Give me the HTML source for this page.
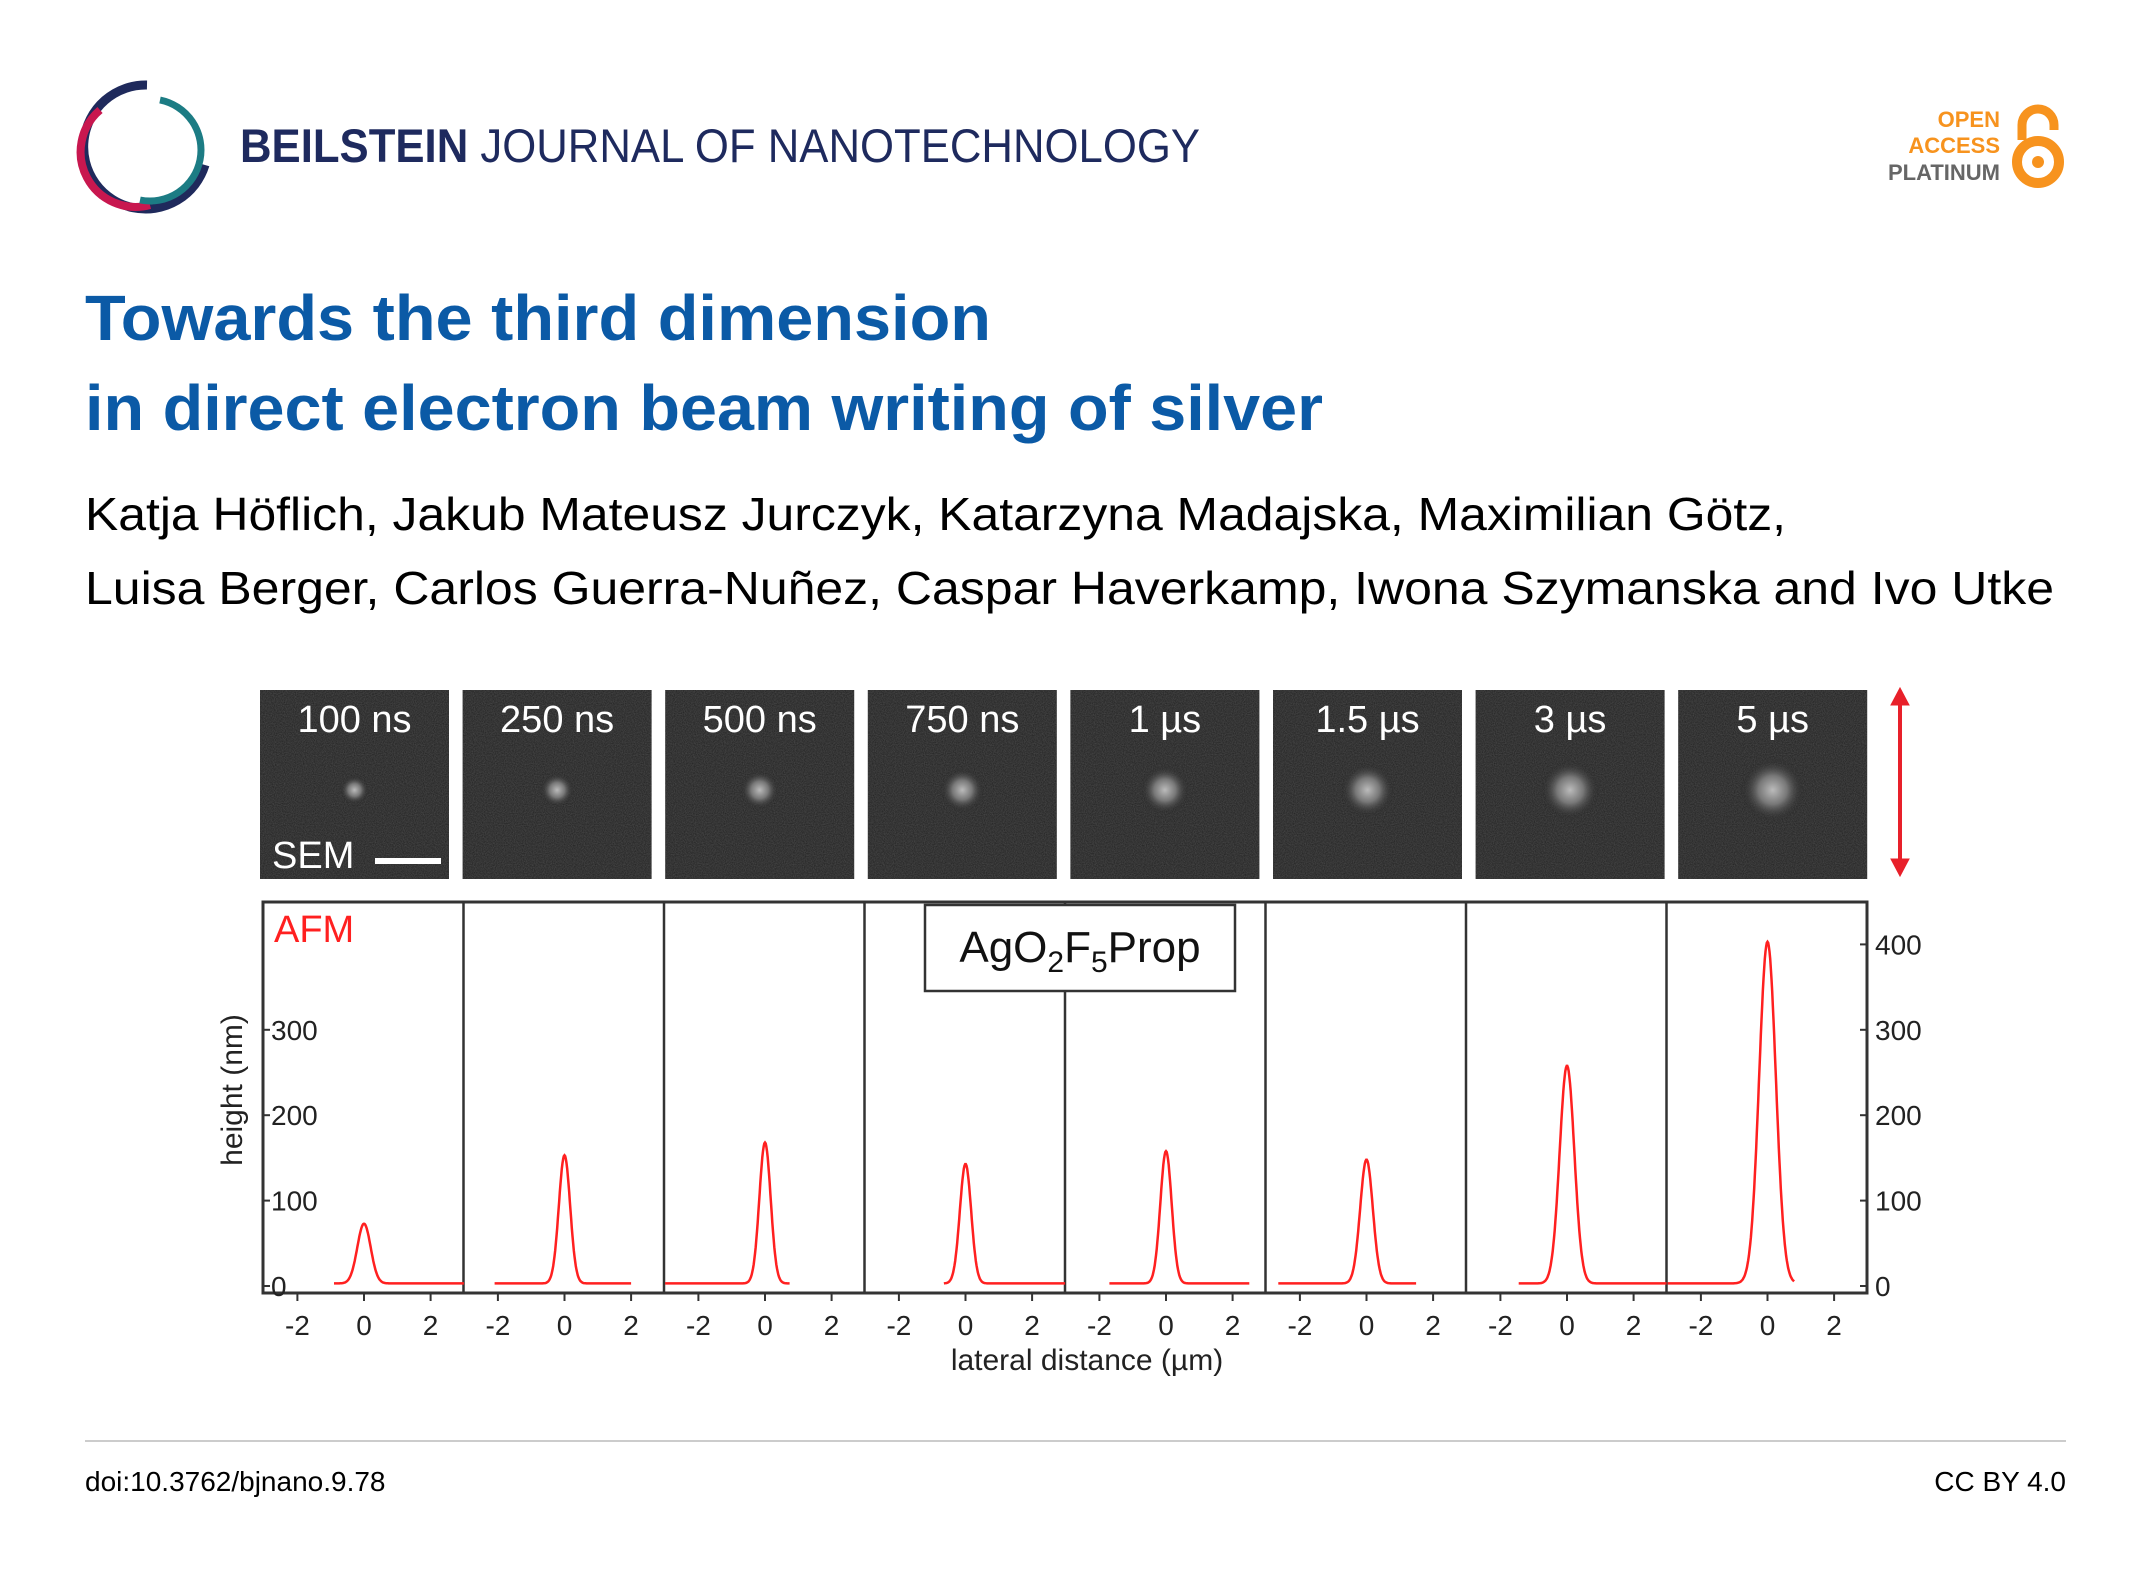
<!DOCTYPE html>
<html><head><meta charset="utf-8"><style>
html,body{margin:0;padding:0;background:#fff}
svg{display:block}
text{font-family:"Liberation Sans",sans-serif}
</style></head><body>
<svg id="page" width="2150" height="1592" viewBox="0 0 2150 1592" xmlns="http://www.w3.org/2000/svg">
<defs>
<filter id="noise" x="0" y="0" width="100%" height="100%"><feTurbulence type="fractalNoise" baseFrequency="0.9" numOctaves="2" seed="3"/><feColorMatrix type="matrix" values="0 0 0 0 0.5  0 0 0 0 0.5  0 0 0 0 0.5  0 0 0 0.3 0"/><feComposite in2="SourceGraphic" operator="in"/></filter>
<radialGradient id="blob"><stop offset="0" stop-color="#bbb"/><stop offset="0.45" stop-color="#777"/><stop offset="1" stop-color="#222" stop-opacity="0"/></radialGradient>
</defs>
<g>
<path d="M147 85 A62 62 0 1 0 205 165" fill="none" stroke="#1f2a5c" stroke-width="9"/>
<path d="M100 110 A55 55 0 0 0 150 205" fill="none" stroke="#c8174f" stroke-width="8"/>
<path d="M160 100 A50 50 0 0 1 140 200" fill="none" stroke="#1c7c84" stroke-width="7"/>
</g>
<text x="240" y="162" font-size="47" fill="#1e2a5e" textLength="960" lengthAdjust="spacingAndGlyphs"><tspan font-weight="bold">BEILSTEIN</tspan> JOURNAL OF NANOTECHNOLOGY</text>
<g font-weight="bold" font-size="22" text-anchor="end">
<text x="2000" y="127" fill="#f7931e">OPEN</text>
<text x="2000" y="153" fill="#f7931e">ACCESS</text>
<text x="2000" y="180" fill="#666">PLATINUM</text>
<path d="M2022 140 V125 A16 16 0 0 1 2054 125 V130" fill="none" stroke="#f7931e" stroke-width="9"/>
<circle cx="2038" cy="162" r="21" fill="none" stroke="#f7931e" stroke-width="10"/>
<circle cx="2038" cy="162" r="6" fill="#f7931e"/>
</g>
<g fill="#0b5aa6" font-weight="bold" font-size="64">
<text x="85" y="340" textLength="906" lengthAdjust="spacingAndGlyphs">Towards the third dimension</text>
<text x="85" y="430" textLength="1238" lengthAdjust="spacingAndGlyphs">in direct electron beam writing of silver</text>
</g>
<g fill="#000" font-size="46">
<text x="85" y="530" textLength="1701" lengthAdjust="spacingAndGlyphs">Katja Höflich, Jakub Mateusz Jurczyk, Katarzyna Madajska, Maximilian Götz,</text>
<text x="85" y="604" textLength="1969" lengthAdjust="spacingAndGlyphs">Luisa Berger, Carlos Guerra-Nuñez, Caspar Haverkamp, Iwona Szymanska and Ivo Utke</text>
</g>
<g id="sem"></g>
<g stroke="#e8202a" fill="#e8202a">
<line x1="1900" y1="700" x2="1900" y2="864" stroke-width="4"/>
<path d="M1891 705 L1900 688 L1909 705Z"/><path d="M1891 859 L1900 876 L1909 859Z"/>
</g>
<g id="afm"></g>
<line x1="85" y1="1441" x2="2066" y2="1441" stroke="#ccc" stroke-width="2"/>
<text x="85" y="1491" font-size="28" fill="#000">doi:10.3762/bjnano.9.78</text>
<text x="2066" y="1491" font-size="28" fill="#000" text-anchor="end">CC BY 4.0</text>
</svg>
<script>
const semLabels = ["100 ns","250 ns","500 ns","750 ns","1 µs","1.5 µs","3 µs","5 µs"];
const peakHeights = [70, 150, 165, 140, 155, 145, 255, 400];
const peakWidths = [0.2, 0.17, 0.17, 0.17, 0.17, 0.19, 0.22, 0.25];
const lineStarts = [-0.9, -2.1, -3.0, -0.65, -1.7, -2.65, -1.45, -3.0];
const lineEnds = [3.0, 2.0, 0.75, 3.0, 2.5, 1.5, 3.0, 0.8];
const yTicks = [0, 100, 200, 300, 400];
const xTicks = [-2, 0, 2];

const NS = "http://www.w3.org/2000/svg";
function mk(tag, attrs, parent){ const e=document.createElementNS(NS,tag); for(const k in attrs) e.setAttribute(k,attrs[k]); parent.appendChild(e); return e; }

const sem = document.getElementById('sem');
const semX0 = 260, semPitch = 202.6, semW = 189, semY = 690, semH = 189;
semLabels.forEach((lab,i)=>{
  const x = semX0 + i*semPitch;
  const g = mk('g',{},sem);
  
  
  mk('rect',{x:x,y:semY,width:semW,height:semH,fill:'#1e1e1e'},g);
  mk('rect',{x:x,y:semY,width:semW,height:semH,fill:'#fff',filter:'url(#noise)'},g);
  const r = 8 + i*1.4;
  mk('circle',{cx:x+semW/2,cy:semY+100,r:r*1.8,fill:'url(#blob)'},g);
  const t = mk('text',{x:x+semW/2,y:semY+42,'font-size':38,fill:'#fff','text-anchor':'middle'},g);
  t.textContent = lab;
  
  
});
{
  const t = mk('text',{x:272,y:868,'font-size':38,fill:'#fff'},sem);
  t.textContent='SEM';
  
  
  const b = mk('rect',{x:375,y:858,width:66,height:6,fill:'#fff'},sem);
  
  
}

const afm = document.getElementById('afm');
const plotLeft = 263, plotRight = 1867, plotTop = 902, plotBottom = 1293;
const nP = peakHeights.length, pw = (plotRight-plotLeft)/nP;
const y0 = 1286, yPer100 = 85.4;
function yS(v){ return y0 - v/100*yPer100; }
function xS(p, v){ return plotLeft + p*pw + 101 + v*33.3; }

const frame = mk('rect',{x:plotLeft,y:plotTop,width:plotRight-plotLeft,height:plotBottom-plotTop,fill:'none',stroke:'#333','stroke-width':3},afm);


for(let p=1;p<nP;p++){
  const l = mk('line',{x1:plotLeft+p*pw,y1:plotTop,x2:plotLeft+p*pw,y2:plotBottom,stroke:'#333','stroke-width':2.5},afm);
  
  
}
yTicks.forEach(v=>{
  const y=yS(v);
  if(v<=300){
    mk('line',{x1:plotLeft,y1:y,x2:plotLeft+7,y2:y,stroke:'#333','stroke-width':2},afm);
    const t=mk('text',{x:plotLeft+8,y:y+10,'font-size':28,fill:'#222'},afm);
    t.textContent=v;
    
    
  }
  mk('line',{x1:plotRight-7,y1:y,x2:plotRight,y2:y,stroke:'#333','stroke-width':2},afm);
  const t2=mk('text',{x:plotRight+8,y:y+10,'font-size':28,fill:'#222'},afm);
  t2.textContent=v;
  
  
});
for(let p=0;p<nP;p++){
  xTicks.forEach(v=>{
    const x=xS(p,v);
    mk('line',{x1:x,y1:plotBottom,x2:x,y2:plotBottom+8,stroke:'#333','stroke-width':2},afm);
    const t=mk('text',{x:x,y:1335,'font-size':28,fill:'#222','text-anchor':'middle'},afm);
    t.textContent=v;
    
    
  });
}
for(let p=0;p<nP;p++){
  let d='';
  for(let v=lineStarts[p]; v<=lineEnds[p]+1e-9; v+=0.02){
    const h = 3 + peakHeights[p]*Math.exp(-v*v/(2*peakWidths[p]*peakWidths[p]));
    d += (d?'L':'M') + xS(p,v).toFixed(1)+' '+yS(h).toFixed(1);
  }
  const path = mk('path',{d:d,fill:'none',stroke:'#ff2020','stroke-width':2.5},afm);
  
  
}
{
  const t=mk('text',{x:274,y:942,'font-size':38,fill:'#ff2020'},afm);
  t.textContent='AFM';
  
  
  const yt=mk('text',{x:0,y:0,'font-size':30,fill:'#222','text-anchor':'middle',transform:'translate(242,1090) rotate(-90)'},afm);
  yt.textContent='height (nm)';
  
  
  const xt=mk('text',{x:1087,y:1370,'font-size':30,fill:'#222','text-anchor':'middle'},afm);
  xt.textContent='lateral distance (µm)';
  
  
  const lg=mk('g',{},afm);
  
  
  mk('rect',{x:925,y:905,width:310,height:86,fill:'#fff',stroke:'#333','stroke-width':2.5},lg);
  const lt=mk('text',{x:1080,y:962,'font-size':44,fill:'#111','text-anchor':'middle'},lg);
  lt.innerHTML='AgO<tspan font-size="30" dy="10">2</tspan><tspan dy="-10">F</tspan><tspan font-size="30" dy="10">5</tspan><tspan dy="-10">Prop</tspan>';
}
</script>
</body></html>
